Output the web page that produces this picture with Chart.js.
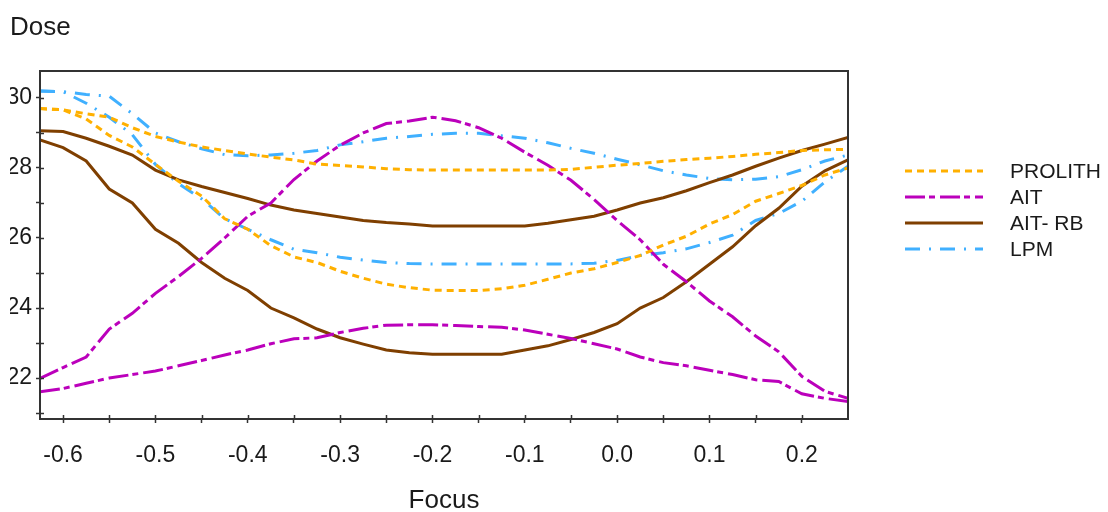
<!DOCTYPE html>
<html><head><meta charset="utf-8">
<script src="https://cdn.jsdelivr.net/npm/chart.js@4.4.0/dist/chart.umd.min.js"></script>
<style>html,body{margin:0;padding:0;background:#fff;}canvas{display:block;}</style>
</head><body>
<canvas id="c" width="1108" height="512"></canvas>
<script>
// ---- data ----
const focus = [-0.625,-0.6,-0.575,-0.55,-0.525,-0.5,-0.475,-0.45,-0.425,-0.4,-0.375,-0.35,
  -0.325,-0.3,-0.275,-0.25,-0.225,-0.2,-0.175,-0.15,-0.125,-0.1,-0.075,-0.05,
  -0.025,0,0.025,0.05,0.075,0.1,0.125,0.15,0.175,0.2,0.225,0.25];

const prolithUpper = [29.70,29.66,29.55,29.45,29.15,28.90,28.74,28.60,28.50,28.40,28.31,28.23,
  28.11,28.07,28.03,27.98,27.95,27.94,27.94,27.94,27.94,27.94,27.94,27.96,
  28.02,28.08,28.13,28.19,28.24,28.28,28.33,28.39,28.44,28.50,28.52,28.53];
const prolithLower = [29.70,29.66,29.40,28.93,28.60,28.10,27.62,27.20,26.55,26.25,25.78,25.46,
  25.30,25.05,24.85,24.68,24.58,24.51,24.50,24.50,24.55,24.65,24.82,25.00,
  25.12,25.30,25.50,25.80,26.05,26.40,26.67,27.05,27.27,27.50,27.80,28.00];
const aitUpper = [21.99,22.30,22.60,23.40,23.85,24.42,24.90,25.42,26.00,26.62,27.00,27.67,
  28.20,28.65,29.00,29.27,29.34,29.45,29.35,29.15,28.85,28.45,28.08,27.65,
  27.10,26.50,25.95,25.25,24.75,24.20,23.75,23.20,22.75,22.05,21.62,21.42];
const aitLower = [21.61,21.70,21.85,22.00,22.10,22.20,22.35,22.50,22.66,22.80,22.98,23.12,
  23.15,23.30,23.42,23.51,23.52,23.52,23.50,23.47,23.45,23.37,23.25,23.13,
  22.98,22.83,22.60,22.44,22.35,22.22,22.10,21.95,21.90,21.55,21.42,21.33];
const aitRbUpper = [29.06,29.04,28.85,28.62,28.37,27.94,27.66,27.47,27.30,27.13,26.94,26.80,
  26.70,26.60,26.50,26.44,26.40,26.34,26.34,26.34,26.34,26.34,26.42,26.52,
  26.62,26.80,27.00,27.15,27.35,27.58,27.80,28.05,28.28,28.50,28.68,28.87];
const aitRbLower = [28.80,28.58,28.20,27.40,27.00,26.25,25.85,25.30,24.85,24.50,24.00,23.72,
  23.40,23.15,22.97,22.80,22.72,22.68,22.68,22.68,22.68,22.80,22.92,23.10,
  23.30,23.55,24.00,24.30,24.75,25.25,25.75,26.35,26.85,27.48,27.92,28.23];
const lpmUpper = [30.20,30.18,30.10,30.05,29.55,29.00,28.75,28.55,28.38,28.35,28.37,28.42,
  28.50,28.66,28.75,28.85,28.90,28.96,28.99,28.99,28.92,28.85,28.72,28.56,
  28.42,28.25,28.09,27.92,27.80,27.70,27.66,27.68,27.75,27.95,28.20,28.37];
const lpmLower = [30.20,30.18,29.85,29.45,28.95,28.10,27.55,27.12,26.55,26.25,25.95,25.68,
  25.58,25.45,25.37,25.30,25.27,25.26,25.26,25.26,25.26,25.26,25.26,25.26,
  25.28,25.36,25.50,25.58,25.69,25.87,26.08,26.50,26.70,27.05,27.60,28.05];

const seriesNames = ['PROLITH', 'AIT', 'AIT- RB', 'LPM'];
const xTickLabels = ['-0.6','-0.5','-0.4','-0.3','-0.2','-0.1','0.0','0.1','0.2'];
const xMinorTicks = [-0.55,-0.45,-0.35,-0.25,-0.15,-0.05,0.05,0.15];
const yTickLabels = ['22','24','26','28','30'];
const yMinorTicks = [21,23,25,27,29];
const xTitle = 'Focus';
const yTitle = 'Dose';

// ---- styles ----
const FONT = "'Liberation Sans', Arial, sans-serif";
const TEXT = '#1a1a1a';
const AXIS = '#333333';
const seriesStyles = [
  {color:'#FFB000', dash:[7,5]},
  {color:'#BB00BB', dash:[20,4,6,5]},
  {color:'#7F3F00', dash:[]},
  {color:'#40B0FF', dash:[15,9,2,9]}
];
const seriesData = [[prolithUpper, prolithLower],[aitUpper, aitLower],[aitRbUpper, aitRbLower],[lpmUpper, lpmLower]];

function pts(vals){ return focus.map((f,i)=>({x:f, y:vals[i]})); }

const datasets = [];
seriesNames.forEach((name, i) => {
  seriesData[i].forEach(vals => {
    datasets.push({
      label: name, data: pts(vals),
      borderColor: seriesStyles[i].color, borderDash: seriesStyles[i].dash,
      borderWidth: 3, pointRadius: 0, tension: 0, fill: false, borderCapStyle: 'butt'
    });
  });
});

const xMajor = xTickLabels.map(Number);
const yMajor = yTickLabels.map(Number);
function labelFor(v, vals, labels){
  for (let i = 0; i < vals.length; i++) if (Math.abs(vals[i]-v) < 1e-9) return labels[i];
  return '';
}

const framePlugin = {
  id: 'frame',
  afterDraw(chart){
    const {ctx, chartArea: a, scales} = chart;
    ctx.save();
    ctx.strokeStyle = AXIS; ctx.lineWidth = 1.5; ctx.setLineDash([]);
    ctx.beginPath();
    scales.x.ticks.forEach(t => { const p = Math.round(scales.x.getPixelForValue(t.value)) + 0.5; ctx.moveTo(p, a.bottom); ctx.lineTo(p, a.bottom - 4); });
    scales.y.ticks.forEach(t => { const p = Math.round(scales.y.getPixelForValue(t.value)) + 0.5; ctx.moveTo(a.left, p); ctx.lineTo(a.left + 4, p); });
    ctx.stroke();
    ctx.lineWidth = 2;
    ctx.strokeRect(a.left, a.top, a.right - a.left, a.bottom - a.top);
    ctx.restore();
  }
};

const legendPlugin = {
  id: 'sideLegend',
  afterDraw(chart){
    const ctx = chart.ctx;
    ctx.save();
    seriesNames.forEach((name, i) => {
      const y = 171 + i * 26;
      ctx.strokeStyle = seriesStyles[i].color; ctx.lineWidth = 3;
      ctx.setLineDash(seriesStyles[i].dash);
      ctx.beginPath(); ctx.moveTo(905, y); ctx.lineTo(983, y); ctx.stroke();
      ctx.setLineDash([]);
      ctx.fillStyle = TEXT; ctx.font = '21px ' + FONT;
      ctx.textBaseline = 'middle'; ctx.textAlign = 'left';
      ctx.fillText(name, 1010, y + 1);
    });
    ctx.restore();
  }
};

new Chart(document.getElementById('c'), {
  type: 'line',
  data: { datasets },
  options: {
    responsive: false, animation: false,
    layout: { padding: { left: 10, right: 260, top: 0, bottom: 0 } },
    plugins: {
      legend: { display: false }, tooltip: { enabled: false },
      title: { display: true, text: yTitle, align: 'start', color: TEXT,
        font: { family: FONT, size: 26, weight: 'normal', lineHeight: 1 },
        padding: { top: 15, bottom: 30 } }
    },
    scales: {
      x: {
        type: 'linear', min: -0.625, max: 0.25,
        afterBuildTicks: s => { s.ticks = xMajor.concat(xMinorTicks).sort((a,b)=>a-b).map(v => ({value: v})); },
        afterFit: s => { s.height = 93; },
        border: { display: false },
        grid: { drawOnChartArea: false, drawTicks: true, tickLength: 4, tickColor: AXIS, tickWidth: 1.5, color: AXIS },
        ticks: { autoSkip: false, maxRotation: 0, padding: 19, color: TEXT,
          font: { family: FONT, size: 23 }, callback: v => labelFor(v, xMajor, xTickLabels) },
        title: { display: true, text: xTitle, color: TEXT,
          font: { family: FONT, size: 26, lineHeight: 1 }, padding: { top: 0, bottom: -2 } }
      },
      y: {
        type: 'linear', min: 20.83, max: 30.77,
        afterBuildTicks: s => { s.ticks = yMajor.concat(yMinorTicks).sort((a,b)=>a-b).map(v => ({value: v})); },
        afterFit: s => { s.width = 30; },
        border: { display: false },
        grid: { drawOnChartArea: false, drawTicks: true, tickLength: 4, tickColor: AXIS, tickWidth: 1.5, color: AXIS },
        ticks: { autoSkip: false, padding: 4, color: TEXT,
          font: { family: FONT, size: 23 }, callback: v => labelFor(v, yMajor, yTickLabels) }
      }
    }
  },
  plugins: [framePlugin, legendPlugin]
});
</script>
</body></html>
